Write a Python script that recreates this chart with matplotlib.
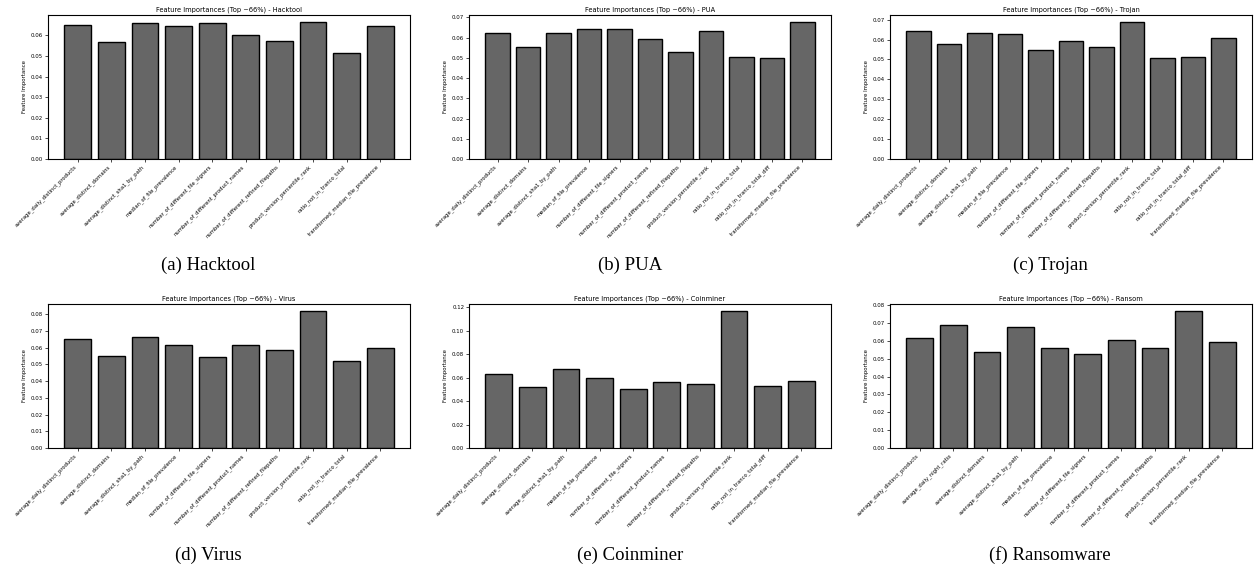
import matplotlib
matplotlib.use("Agg")
import matplotlib.pyplot as plt

# ---------------- data ----------------
labels_hacktool = ["average_daily_distinct_products", "average_distinct_domains",
                   "average_distinct_sha1_by_path", "median_of_file_prevalence",
                   "number_of_different_file_signers", "number_of_different_product_names",
                   "number_of_different_refined_filepaths", "product_version_percentile_rank",
                   "ratio_not_in_tranco_total", "transformed_median_file_prevalence"]
values_hacktool = [0.0649, 0.0566, 0.0659, 0.0644, 0.0661, 0.0604, 0.0571, 0.0666, 0.0514, 0.0648]

labels_pua = ["average_daily_distinct_products", "average_distinct_domains",
              "average_distinct_sha1_by_path", "median_of_file_prevalence",
              "number_of_different_file_signers", "number_of_different_product_names",
              "number_of_different_refined_filepaths", "product_version_percentile_rank",
              "ratio_not_in_tranco_total", "ratio_not_in_tranco_total_diff",
              "transformed_median_file_prevalence"]
values_pua = [0.0622, 0.0555, 0.0625, 0.0642, 0.0643, 0.0595, 0.0530, 0.0633, 0.0502, 0.0498, 0.0678]

labels_trojan = list(labels_pua)
values_trojan = [0.0642, 0.0578, 0.0633, 0.0628, 0.0546, 0.0593, 0.0563, 0.0689, 0.0508, 0.0510, 0.0608]

labels_virus = list(labels_hacktool)
values_virus = [0.0652, 0.0550, 0.0666, 0.0618, 0.0542, 0.0616, 0.0584, 0.0820, 0.0522, 0.0598]

labels_coinminer = ["average_daily_distinct_products", "average_distinct_domains",
                    "average_distinct_sha1_by_path", "median_of_file_prevalence",
                    "number_of_different_file_signers", "number_of_different_product_names",
                    "number_of_different_refined_filepaths", "product_version_percentile_rank",
                    "ratio_not_in_tranco_total_diff", "transformed_median_file_prevalence"]
values_coinminer = [0.0629, 0.0517, 0.0671, 0.0600, 0.0506, 0.0566, 0.0549, 0.1171, 0.0526, 0.0571]

labels_ransom = ["average_daily_distinct_products", "average_daily_night_ratio",
                 "average_distinct_domains", "average_distinct_sha1_by_path",
                 "median_of_file_prevalence", "number_of_different_file_signers",
                 "number_of_different_product_names", "number_of_different_refined_filepaths",
                 "product_version_percentile_rank", "transformed_median_file_prevalence"]
values_ransom = [0.0618, 0.0689, 0.0537, 0.0680, 0.0560, 0.0529, 0.0607, 0.0562, 0.0768, 0.0595]

panel_names = ["Hacktool", "PUA", "Trojan", "Virus", "Coinminer", "Ransom"]
captions = ["(a) Hacktool", "(b) PUA", "(c) Trojan", "(d) Virus", "(e) Coinminer", "(f) Ransomware"]
panel_labels = [labels_hacktool, labels_pua, labels_trojan, labels_virus, labels_coinminer, labels_ransom]
panel_values = [values_hacktool, values_pua, values_trojan, values_virus, values_coinminer, values_ransom]

# ---------------- layout ----------------
W, H = 1259, 582
fig = plt.figure(figsize=(W / 100, H / 100), dpi=100)

lefts = [48, 469, 890]
ax_w = 362
tops = [15, 304]
ax_h = 144
cap_x = [208, 630, 1050]
cap_y = [265, 555]

for i in range(6):
    r, c = divmod(i, 3)
    x0 = lefts[c] / W
    y0 = 1 - (tops[r] + ax_h) / H
    ax = fig.add_axes([x0, y0, ax_w / W, ax_h / H])
    labs = panel_labels[i]
    vals = panel_values[i]
    pos = list(range(len(labs)))
    ax.bar(pos, vals, color="#666666", edgecolor="black", linewidth=1.0, width=0.8)
    ax.set_xticks(pos)
    ax.set_xticklabels(labs, rotation=45, ha="right", fontsize=3.75)
    ax.tick_params(axis="y", labelsize=3.9, length=2, width=0.5, pad=1.5)
    ax.tick_params(axis="x", length=2, width=0.5, pad=1.5)
    ax.set_ylabel("Feature Importance", fontsize=3.9, labelpad=3)
    ax.set_title(f"Feature Importances (Top ~66%) - {panel_names[i]}", fontsize=4.8, pad=2.5)
    for s in ax.spines.values():
        s.set_linewidth(0.8)
    fig.text(cap_x[c] / W, 1 - cap_y[r] / H, captions[i], ha="center", va="center",
             fontsize=13.5, family="Liberation Serif")

fig.savefig("out.png", dpi=100)
